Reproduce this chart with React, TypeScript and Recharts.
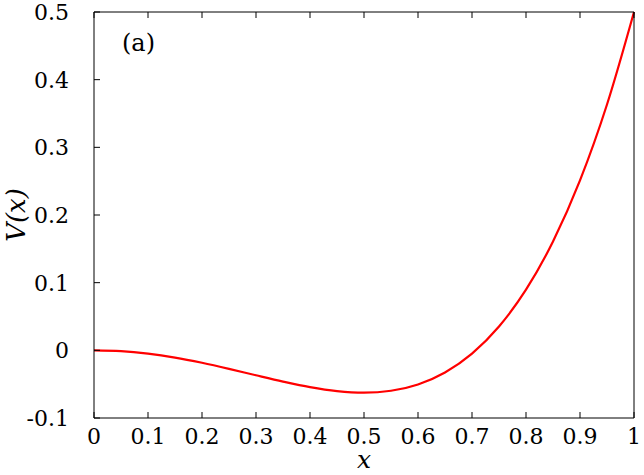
import React from "react";
import { LineChart, Line, XAxis, YAxis, Label } from "recharts";

const xValues = [0, 0.05, 0.1, 0.15, 0.2, 0.25, 0.3, 0.35, 0.4, 0.45, 0.5, 0.55, 0.6, 0.65, 0.7, 0.75, 0.8, 0.85, 0.9, 0.95, 1.0];
const vValues = [0, -0.0012, -0.0049, -0.0107, -0.0184, -0.0273, -0.0369, -0.0462, -0.0544, -0.0602, -0.0625, -0.0597, -0.0504, -0.0327, -0.0049, 0.0352, 0.0896, 0.1608, 0.2511, 0.3633, 0.5];
const xTicks = [0, 0.1, 0.2, 0.3, 0.4, 0.5, 0.6, 0.7, 0.8, 0.9, 1];
const xTickLabels = ["0", "0.1", "0.2", "0.3", "0.4", "0.5", "0.6", "0.7", "0.8", "0.9", "1"];
const yTicks = [-0.1, 0, 0.1, 0.2, 0.3, 0.4, 0.5];
const yTickLabels = ["-0.1", "0", "0.1", "0.2", "0.3", "0.4", "0.5"];
const panelLabel = "(a)";
const xAxisTitle = "x";
const yAxisTitle = "V(x)";

const data = xValues.map((x, i) => ({ x, v: vValues[i] }));

const FONT = "'DejaVu Serif', serif";
const AXIS_COLOR = "#000";
const TICK_LINE = { stroke: AXIS_COLOR, strokeWidth: 1 };

const labelFor = (list: number[], labels: string[], v: number) => {
  const idx = list.findIndex((t) => Math.abs(t - v) < 1e-9);
  return idx >= 0 ? labels[idx] : String(v);
};

const BottomTick = (props: any) => {
  const { x, y, payload } = props;
  return (
    <text x={x} y={y + 26} textAnchor="middle" fontSize={22} fontFamily={FONT} fill="#000">
      {labelFor(xTicks, xTickLabels, payload.value)}
    </text>
  );
};

const LeftTick = (props: any) => {
  const { x, y, payload } = props;
  return (
    <text x={x - 25} y={y + 8} textAnchor="end" fontSize={22} fontFamily={FONT} fill="#000">
      {labelFor(yTicks, yTickLabels, payload.value)}
    </text>
  );
};

const EmptyTick = () => <g />;

export default function App() {
  return (
    <div style={{ position: "absolute", left: 0, top: 0 }}>
      <LineChart
        width={644}
        height={475}
        data={data}
        margin={{ top: 11, right: 9, left: 0, bottom: 0 }}
        style={{ fontFamily: FONT }}
      >
        <XAxis
          dataKey="x"
          type="number"
          domain={[0, 1]}
          ticks={xTicks}
          height={57}
          tickSize={-6}
          tickMargin={6}
          tickLine={TICK_LINE}
          tick={<BottomTick />}
          axisLine={{ stroke: AXIS_COLOR, strokeWidth: 1 }}
          interval={0}
        >
          <Label
            content={(p: any) => {
              const vb = p.viewBox || { x: 94, y: 418, width: 540, height: 57 };
              return (
                <text
                  x={vb.x + vb.width / 2}
                  y={vb.y + 50}
                  textAnchor="middle"
                  fontSize={25}
                  fontStyle="italic"
                  fontFamily={FONT}
                  fill="#000"
                >
                  {xAxisTitle}
                </text>
              );
            }}
          />
        </XAxis>
        <XAxis
          xAxisId="top"
          orientation="top"
          dataKey="x"
          type="number"
          domain={[0, 1]}
          ticks={xTicks}
          height={1}
          tickSize={-6}
          tickMargin={0}
          tickLine={TICK_LINE}
          tick={<EmptyTick />}
          axisLine={{ stroke: AXIS_COLOR, strokeWidth: 1 }}
          interval={0}
        >
          <Label
            content={(p: any) => {
              const vb = p.viewBox || { x: 94, y: 11, width: 540, height: 1 };
              return (
                <text x={vb.x + 28} y={vb.y + 40} fontSize={24} fontFamily={FONT} fill="#000">
                  {panelLabel}
                </text>
              );
            }}
          />
        </XAxis>
        <YAxis
          type="number"
          domain={[-0.1, 0.5]}
          ticks={yTicks}
          width={94}
          tickSize={-6}
          tickMargin={6}
          tickLine={TICK_LINE}
          tick={<LeftTick />}
          axisLine={{ stroke: AXIS_COLOR, strokeWidth: 1 }}
          interval={0}
        >
          <Label
            content={(p: any) => {
              const vb = p.viewBox || { x: 0, y: 11, width: 94, height: 406 };
              const cx = vb.x + 25;
              const cy = vb.y + vb.height / 2;
              return (
                <text
                  x={cx}
                  y={cy}
                  transform={`rotate(-90, ${cx}, ${cy})`}
                  textAnchor="middle"
                  fontSize={26}
                  fontStyle="italic"
                  fontFamily={FONT}
                  fill="#000"
                >
                  {yAxisTitle}
                </text>
              );
            }}
          />
        </YAxis>
        <YAxis
          yAxisId="right"
          orientation="right"
          type="number"
          domain={[-0.1, 0.5]}
          ticks={yTicks}
          width={1}
          tickSize={-6}
          tickMargin={0}
          tickLine={TICK_LINE}
          tick={<EmptyTick />}
          axisLine={{ stroke: AXIS_COLOR, strokeWidth: 1 }}
          interval={0}
        />
        <Line
          type="monotone"
          dataKey="v"
          stroke="#ff0000"
          strokeWidth={2.2}
          dot={false}
          isAnimationActive={false}
        />
      </LineChart>
    </div>
  );
}
